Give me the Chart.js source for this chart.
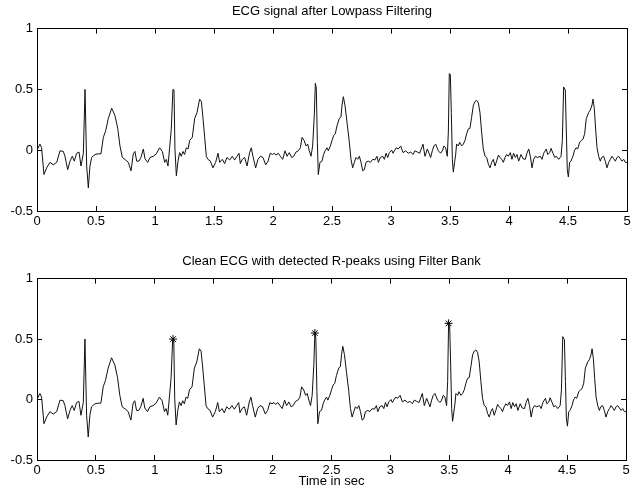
<!DOCTYPE html>
<html>
<head>
<meta charset="utf-8">
<script src="https://cdn.jsdelivr.net/npm/chart.js@4.4.1/dist/chart.umd.min.js"></script>
<style>
  html, body { margin: 0; padding: 0; background: #fff; }
  #wrap { position: relative; width: 631px; height: 490px; }
  canvas { position: absolute; left: 0; }
</style>
</head>
<body>
<div id="wrap">
  <canvas id="c1" width="631" height="245" style="top:0"></canvas>
  <canvas id="c2" width="631" height="245" style="top:245px"></canvas>
</div>
<script>
// ---- data ----
const time = [
0.000,0.025,0.039,0.059,0.082,0.110,0.138,0.167,0.195,0.223,0.237,0.260,0.280,0.299,0.316,0.336,0.356,0.373,0.393,0.407,
0.421,0.435,0.449,0.463,0.492,0.520,0.542,0.562,0.582,0.604,0.633,0.661,0.684,0.703,0.723,0.751,0.774,0.797,0.816,0.830,
0.845,0.864,0.881,0.901,0.915,0.938,0.958,0.986,1.011,1.039,1.062,1.082,1.096,1.110,1.124,1.138,1.152,1.161,1.169,1.181,
1.195,1.209,1.223,1.237,1.251,1.265,1.280,1.294,1.316,1.336,1.356,1.378,1.393,1.407,1.421,1.435,1.449,1.469,1.491,1.514,
1.534,1.548,1.571,1.590,1.610,1.633,1.655,1.675,1.695,1.712,1.723,1.740,1.760,1.780,1.802,1.816,1.830,1.853,1.873,1.893,
1.915,1.938,1.958,1.977,1.995,2.012,2.025,2.045,2.062,2.082,2.102,2.119,2.138,2.158,2.175,2.195,2.215,2.232,2.246,2.265,
2.280,2.294,2.308,2.322,2.336,2.350,2.359,2.367,2.376,2.384,2.398,2.415,2.429,2.441,2.458,2.469,2.486,2.500,2.514,2.528,
2.542,2.562,2.576,2.585,2.596,2.610,2.627,2.647,2.661,2.675,2.689,2.703,2.718,2.732,2.746,2.760,2.774,2.788,2.808,2.825,
2.845,2.864,2.881,2.893,2.910,2.930,2.944,2.958,2.972,2.986,3.006,3.017,3.028,3.045,3.062,3.082,3.102,3.124,3.147,3.167,
3.186,3.203,3.223,3.243,3.260,3.271,3.288,3.308,3.322,3.336,3.350,3.364,3.378,3.401,3.421,3.435,3.449,3.463,3.477,3.486,
3.494,3.503,3.511,3.520,3.528,3.539,3.548,3.556,3.571,3.582,3.599,3.613,3.627,3.641,3.655,3.669,3.683,3.698,3.712,3.726,
3.740,3.754,3.768,3.782,3.797,3.811,3.825,3.839,3.853,3.867,3.881,3.895,3.910,3.924,3.938,3.952,3.966,3.980,3.994,4.011,
4.025,4.039,4.054,4.068,4.082,4.102,4.119,4.138,4.152,4.167,4.181,4.195,4.209,4.223,4.243,4.265,4.280,4.294,4.316,4.328,
4.345,4.356,4.373,4.387,4.401,4.421,4.441,4.452,4.463,4.477,4.486,4.494,4.503,4.514,4.525,4.542,4.554,4.568,4.582,4.599,
4.613,4.627,4.641,4.655,4.675,4.689,4.703,4.712,4.723,4.734,4.746,4.760,4.774,4.785,4.802,4.816,4.830,4.845,4.859,4.873,
4.887,4.901,4.915,4.929,4.944,4.958,4.972,4.986,5.000
];
const ecg = [
0.00,0.05,0.02,-0.20,-0.145,-0.10,-0.12,-0.10,-0.005,-0.01,-0.05,-0.16,-0.09,-0.05,-0.09,-0.025,-0.015,-0.13,-0.025,0.50,
-0.13,-0.31,-0.13,-0.06,-0.035,-0.03,-0.03,0.105,0.16,0.26,0.345,0.285,0.18,0.035,-0.06,-0.08,-0.10,-0.17,-0.03,-0.01,
-0.09,-0.09,-0.06,0.01,-0.07,-0.10,-0.06,-0.05,-0.03,0.02,-0.01,-0.10,-0.075,-0.13,0.02,0.175,0.50,0.495,0.01,-0.21,
-0.09,-0.02,-0.05,-0.01,-0.035,0.02,0.01,0.08,0.105,0.26,0.31,0.42,0.40,0.26,0.105,-0.05,-0.075,-0.09,-0.145,-0.10,
-0.025,-0.10,-0.075,-0.11,-0.06,-0.08,-0.05,-0.08,-0.05,-0.025,-0.11,-0.075,-0.06,-0.13,-0.02,0.02,-0.05,-0.145,-0.075,-0.05,
-0.06,-0.12,-0.09,-0.025,-0.035,-0.025,-0.04,-0.025,-0.05,-0.075,-0.005,-0.05,-0.02,-0.06,-0.05,-0.015,-0.005,0.02,0.105,0.078,
0.035,0.05,-0.005,-0.05,0.035,0.29,0.55,0.51,0.065,-0.20,-0.10,-0.09,-0.035,-0.005,0.02,-0.005,0.035,0.08,0.12,0.135,
0.20,0.26,0.275,0.37,0.44,0.37,0.23,0.065,-0.075,-0.145,-0.10,-0.06,-0.075,-0.05,-0.10,-0.17,-0.16,-0.10,-0.09,-0.10,
-0.075,-0.08,-0.05,-0.10,-0.06,-0.05,-0.075,-0.025,-0.06,-0.02,0.00,-0.025,-0.005,0.02,0.01,0.035,-0.02,-0.005,-0.025,-0.015,
-0.035,-0.005,-0.015,-0.025,0.02,0.05,-0.05,0.01,-0.025,-0.06,-0.005,0.035,0.05,-0.005,-0.025,-0.005,0.035,0.02,-0.05,0.15,
0.63,0.62,0.31,-0.075,-0.18,-0.10,-0.035,0.05,0.035,0.065,0.035,0.05,0.08,0.135,0.175,0.18,0.27,0.37,0.40,0.41,
0.39,0.31,0.15,0.01,-0.05,-0.06,-0.115,-0.145,-0.10,-0.075,-0.13,-0.09,-0.04,-0.06,-0.075,-0.10,-0.06,-0.035,-0.05,-0.02,
-0.075,-0.025,-0.06,-0.035,-0.09,-0.035,-0.07,-0.075,-0.025,0.01,-0.05,-0.145,-0.075,-0.05,-0.06,-0.05,-0.075,-0.025,0.01,-0.035,
-0.02,0.015,-0.025,-0.06,-0.05,-0.075,-0.05,0.08,0.52,0.495,0.15,-0.16,-0.22,-0.10,-0.09,-0.05,-0.005,0.02,0.01,0.065,
0.08,0.09,0.135,0.26,0.31,0.33,0.37,0.42,0.34,0.175,0.02,-0.05,-0.09,-0.06,-0.05,-0.09,-0.145,-0.10,-0.075,-0.05,
-0.07,-0.09,-0.06,-0.05,-0.07,-0.09,-0.075,-0.10,-0.10
];
const peakTime = [1.155, 2.359, 3.494];
const peakValue = [0.50, 0.55, 0.63];
const xTicks = [0, 0.5, 1, 1.5, 2, 2.5, 3, 3.5, 4, 4.5, 5];
const yTicks = [-0.5, 0, 0.5, 1];
const title1 = 'ECG signal after Lowpass Filtering';
const title2 = 'Clean ECG with detected R-peaks using Filter Bank';
const xLabel = 'Time in sec';

// ---- build ----
const FONT = 'Liberation Sans, Arial, Helvetica, sans-serif';
const FS = 13;
const signal = time.map((t, i) => ({ x: t, y: ecg[i] }));
const peaks = peakTime.map((t, i) => ({ x: t, y: peakValue[i] }));

function axisCommon(extra) {
  return Object.assign({
    border: { display: true, color: '#000', width: 1 },
    grid: { drawOnChartArea: false, drawTicks: true, tickLength: -5, color: '#000', lineWidth: 1 },
  }, extra);
}

function makeChart(id, titleText, datasets, opts) {
  return new Chart(document.getElementById(id), {
    type: 'line',
    data: { datasets },
    options: {
      responsive: false,
      animation: false,
      events: [],
      layout: { padding: 0 },
      plugins: {
        legend: { display: false },
        tooltip: { enabled: false },
        title: {
          display: true, text: titleText, color: '#000', fullSize: false,
          font: { family: FONT, size: FS, weight: 'normal' },
          padding: { top: opts.titleTop, bottom: opts.titleBottom }
        }
      },
      scales: {
        x: axisCommon({
          type: 'linear', position: 'bottom', min: 0, max: 5,
          afterBuildTicks: s => { s.ticks = xTicks.map(v => ({ value: v })); },
          afterFit: s => { s.height = opts.xHeight; s.paddingLeft = 0; s.paddingRight = 0; },
          ticks: { color: '#000', font: { family: FONT, size: FS }, padding: opts.xPad,
                   autoSkip: false, maxRotation: 0, callback: v => String(v) },
          title: opts.xTitle ? { display: true, text: opts.xTitle, color: '#000',
                   font: { family: FONT, size: FS }, padding: { top: 0, bottom: 1 } } : { display: false }
        }),
        x2: axisCommon({
          type: 'linear', position: 'top', min: 0, max: 5,
          afterBuildTicks: s => { s.ticks = xTicks.map(v => ({ value: v })); },
          afterFit: s => { s.height = 0; s.paddingLeft = 0; s.paddingRight = 0; },
          ticks: { display: false }
        }),
        y: axisCommon({
          type: 'linear', position: 'left', min: -0.5, max: 1,
          afterBuildTicks: s => { s.ticks = yTicks.map(v => ({ value: v })); },
          afterFit: s => { s.width = 37; s.paddingTop = 0; s.paddingBottom = 0; },
          ticks: { color: '#000', font: { family: FONT, size: FS }, padding: 9, callback: v => String(v) }
        }),
        y2: axisCommon({
          type: 'linear', position: 'right', min: -0.5, max: 1,
          afterBuildTicks: s => { s.ticks = yTicks.map(v => ({ value: v })); },
          afterFit: s => { s.width = 4; s.paddingTop = 0; s.paddingBottom = 0; },
          ticks: { display: false }
        })
      }
    }
  });
}

const lineDs = () => ({
  data: signal, borderColor: '#111', borderWidth: 1, pointRadius: 0,
  tension: 0, fill: false, xAxisID: 'x', yAxisID: 'y'
});

makeChart('c1', title1, [lineDs()],
  { titleTop: 4, titleBottom: 9, xHeight: 34, xPad: 8 });

makeChart('c2', title2, [
  lineDs(),
  { data: peaks, showLine: false, pointStyle: 'star', pointRadius: 4,
    borderColor: '#000', backgroundColor: '#000', borderWidth: 1, xAxisID: 'x', yAxisID: 'y' }
], { titleTop: 9, titleBottom: 9, xHeight: 30, xPad: 8, xTitle: xLabel });
</script>
</body>
</html>
